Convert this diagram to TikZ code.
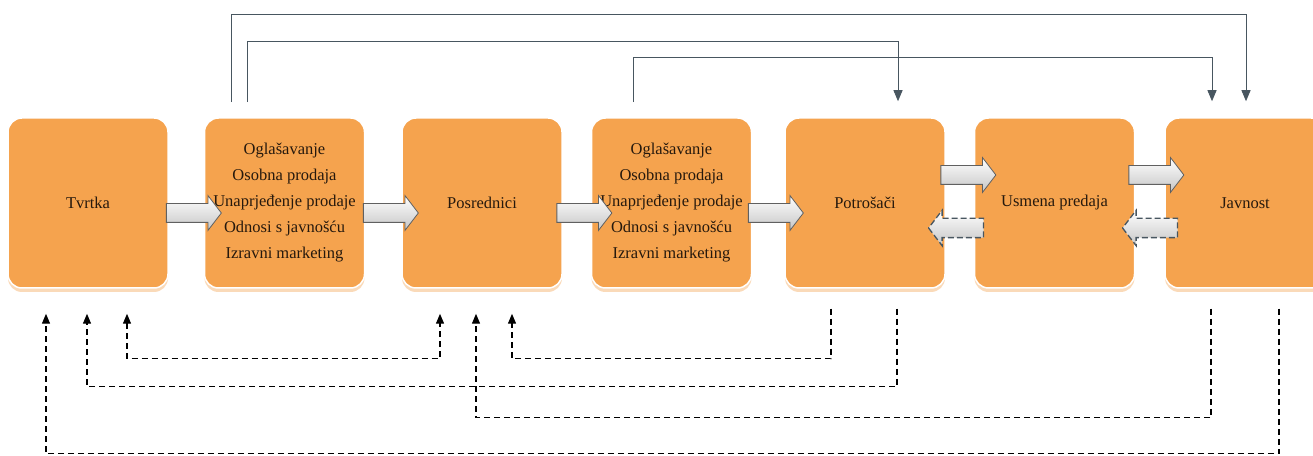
\documentclass[tikz,border=0pt]{standalone}
\usepackage{fontspec}
\setmainfont{Liberation Serif}
\usetikzlibrary{positioning, shapes.arrows, calc, arrows.meta, shadows}

\definecolor{narancasta}{RGB}{245,163,78}
\definecolor{breskva}{RGB}{250,218,185}
\definecolor{sivaplava}{RGB}{72,86,96}

\begin{document}
\begin{tikzpicture}[
        x=1pt, y=1pt,
        kutija/.style={rounded corners=14pt, minimum width=160pt, minimum height=170pt,
            align=center, fill=narancasta, draw=white, line width=1.5pt, text=black!80!brown,
            font=\fontsize{16.5}{26}\selectfont,
            drop shadow={shadow xshift=0pt, shadow yshift=-4pt, fill=breskva, opacity=1}},
        blok/.style={single arrow, single arrow head extend=8pt, single arrow tip angle=105,
            minimum height=55pt, inner xsep=0pt, inner ysep=9pt,
            top color=white, bottom color=gray!45, draw=gray!75!black, line width=0.8pt},
        blokpov/.style={blok, shape border rotate=180, draw=sivaplava, line width=1.3pt,
            dash pattern=on 6pt off 3pt},
        vrh/.style={draw=sivaplava, line width=0.9pt, -{Triangle[width=9pt, length=11pt]}},
        dno/.style={draw=black, line width=1.4pt, dash pattern=on 6pt off 4pt,
            -{Triangle[width=8pt, length=10pt]}}
    ]
    \useasboundingbox (0,0) rectangle (1313,455);

    % kutije
    \node[kutija] (tvrtka) at (88,252) {Tvrtka};
    \node[kutija, right=35pt of tvrtka] (alati1) {Oglašavanje\\Osobna prodaja\\Unaprjeđenje prodaje\\Odnosi s javnošću\\Izravni marketing};
    \node[kutija, right=36pt of alati1] (posrednici) {Posrednici};
    \node[kutija, right=28pt of posrednici] (alati2) {Oglašavanje\\Osobna prodaja\\Unaprjeđenje prodaje\\Odnosi s javnošću\\Izravni marketing};
    \node[kutija, right=32pt of alati2] (potrosaci) {Potrošači};
    \node[kutija, right=28pt of potrosaci] (usmena) {Usmena predaja};
    \node[kutija, right=29pt of usmena] (javnost) {Javnost};

    % blok strelice
    \node[blok] (s1) at ($(tvrtka.east)!.5!(alati1.west)+(4,-10)$) {};
    \node[blok] (s2) at ($(alati1.east)!.5!(posrednici.west)+(4,-10)$) {};
    \node[blok] (s3) at ($(posrednici.east)!.5!(alati2.west)+(4,-10)$) {};
    \node[blok] (s4) at ($(alati2.east)!.5!(potrosaci.west)+(4,-10)$) {};
    \node[blok] (s5) at ($(potrosaci.east)!.5!(usmena.west)+(5,28)$) {};
    \node[blokpov] (p5) at ($(potrosaci.east)!.5!(usmena.west)+(0,-25)$) {};
    \node[blok] (s6) at ($(usmena.east)!.5!(javnost.west)+(3,28)$) {};
    \node[blokpov] (p6) at ($(usmena.east)!.5!(javnost.west)+(4,-25)$) {};

    % gornje veze
    \draw[vrh] ($(alati1.north)+(-53,15)$) -- ++(0,88) -| ($(javnost.north)+(1,16)$);
    \draw[vrh] ($(alati1.north)+(-37,15)$) -- ++(0,61) -| ($(potrosaci.north)+(33,16)$);
    \draw[vrh] ($(alati2.north)+(-38,15)$) -- ++(0,45) -| ($(javnost.north)+(-33,16)$);

    % povratne veze
    \draw[dno, {Triangle[width=8pt, length=10pt]}-{Triangle[width=8pt, length=10pt]}]
        ($(tvrtka.south)+(39,-25)$) -- ++(0,-45) -| ($(posrednici.south)+(-42,-25)$);
    \draw[dno] ($(potrosaci.south)+(-34,-20)$) -- ++(0,-50) -| ($(posrednici.south)+(30,-25)$);
    \draw[dno] ($(potrosaci.south)+(32,-20)$) -- ++(0,-78) -| ($(tvrtka.south)+(-1,-25)$);
    \draw[dno] ($(javnost.south)+(-34,-20)$) -- ++(0,-109) -| ($(posrednici.south)+(-6,-25)$);
    \draw[dno] ($(javnost.south)+(34,-20)$) -- ++(0,-145) -| ($(tvrtka.south)+(-42,-25)$);
\end{tikzpicture}
\end{document}
